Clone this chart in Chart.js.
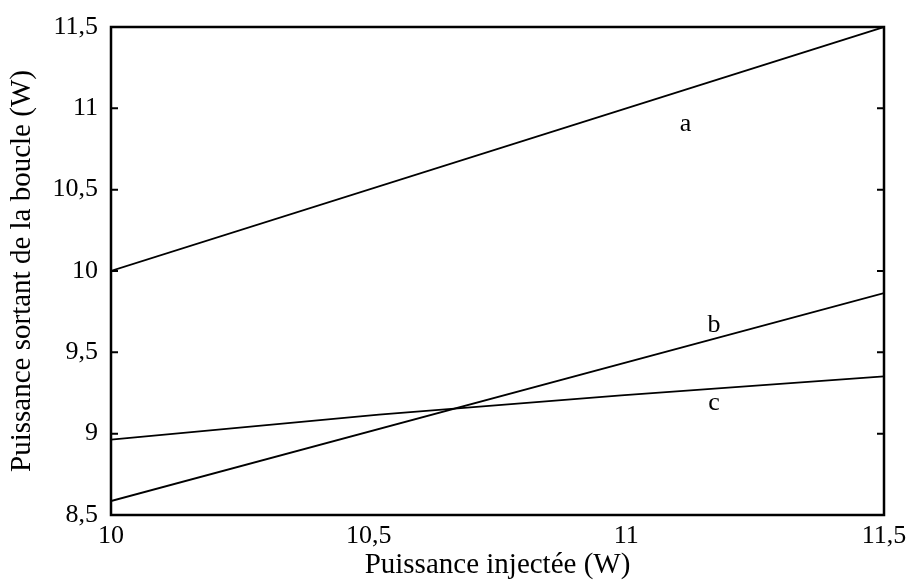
<!DOCTYPE html>
<html>
<head>
<meta charset="utf-8">
<script src="https://cdn.jsdelivr.net/npm/chart.js@4.4.0/dist/chart.umd.min.js"></script>
<style>
html,body{margin:0;padding:0;background:#fff;}
#wrap{width:907px;height:588px;position:relative;}
</style>
</head>
<body>
<div id="wrap"><canvas id="c" width="907" height="588"></canvas></div>
<script>
// Data
const xAB = [10, 11.5];
const seriesA = [10.0, 11.5];
const seriesB = [8.586, 9.864];
const xC = [10, 10.52, 10.99, 11.5];
const seriesC = [8.963, 9.117, 9.235, 9.352];
const seriesNames = ['a', 'b', 'c'];
const labelX = [11.115, 11.17, 11.17];
const labelY = [10.90, 9.67, 9.19];
const xTicks = [10, 10.5, 11, 11.5];
const yTicks = [8.5, 9, 9.5, 10, 10.5, 11, 11.5];
const xTitle = 'Puissance injectée (W)';
const yTitle = 'Puissance sortant de la boucle (W)';

const FONT = '"Liberation Serif", "Times New Roman", serif';
const TICK_SIZE = 26;
const TITLE_SIZE = 29;
const fmt = v => String(v).replace('.', ',');

function pts(xs, ys){ return xs.map((x,i)=>({x:x, y:ys[i]})); }

const framePlugin = {
  id: 'frame',
  afterDatasetsDraw(chart){
    const {ctx, chartArea:a, scales} = chart;
    ctx.save();
    ctx.strokeStyle = '#000';
    ctx.lineWidth = 2.5;
    ctx.strokeRect(a.left, a.top, a.right - a.left, a.bottom - a.top);
    ctx.lineWidth = 2;
    yTicks.forEach(v => {
      const y = scales.y.getPixelForValue(v);
      ctx.beginPath();
      ctx.moveTo(a.left, y); ctx.lineTo(a.left + 7, y);
      ctx.moveTo(a.right, y); ctx.lineTo(a.right - 7, y);
      ctx.stroke();
    });
    ctx.fillStyle = '#000';
    ctx.font = TICK_SIZE + 'px ' + FONT;
    ctx.textAlign = 'center';
    ctx.textBaseline = 'middle';
    seriesNames.forEach((n,i) => {
      ctx.fillText(n, scales.x.getPixelForValue(labelX[i]), scales.y.getPixelForValue(labelY[i]));
    });
    ctx.restore();
  }
};

const lineStyle = {borderColor:'#000', borderWidth:1.8, pointRadius:0, fill:false, tension:0};

new Chart(document.getElementById('c'), {
  type: 'scatter',
  data: {
    datasets: [
      Object.assign({label:'a', data: pts(xAB, seriesA), showLine:true}, lineStyle),
      Object.assign({label:'b', data: pts(xAB, seriesB), showLine:true}, lineStyle),
      Object.assign({label:'c', data: pts(xC, seriesC), showLine:true}, lineStyle)
    ]
  },
  options: {
    responsive: false,
    animation: false,
    devicePixelRatio: 1,
    layout: {padding: {top: 27, right: 23, bottom: 0, left: 0}},
    plugins: {legend:{display:false}, tooltip:{enabled:false}},
    scales: {
      x: {
        type: 'linear', min: 10, max: 11.5,
        afterBuildTicks: s => { s.ticks = xTicks.map(v => ({value: v})); },
        ticks: {color:'#000', font:{family:FONT, size:TICK_SIZE}, padding: 6, callback: v => fmt(v), maxRotation:0, autoSkip:false},
        grid: {display:false, drawTicks:false},
        border: {display:false},
        title: {display:true, text:xTitle, color:'#000', font:{family:FONT, size:TITLE_SIZE}, padding:{top:0, bottom:5.6}},
        afterFit: s => { s.height = 73; s.paddingLeft = 0; s.paddingRight = 0; }
      },
      y: {
        type: 'linear', min: 8.5, max: 11.5,
        afterBuildTicks: s => { s.ticks = yTicks.map(v => ({value: v})); },
        ticks: {color:'#000', font:{family:FONT, size:TICK_SIZE}, padding: 13, callback: v => fmt(v), autoSkip:false},
        grid: {display:false, drawTicks:false},
        border: {display:false},
        title: {display:true, text:yTitle, color:'#000', font:{family:FONT, size:TITLE_SIZE}, padding:{top:4.6, bottom:0}},
        afterFit: s => { s.width = 111; s.paddingTop = 0; s.paddingBottom = 0; }
      }
    }
  },
  plugins: [framePlugin]
});
</script>
</body>
</html>
